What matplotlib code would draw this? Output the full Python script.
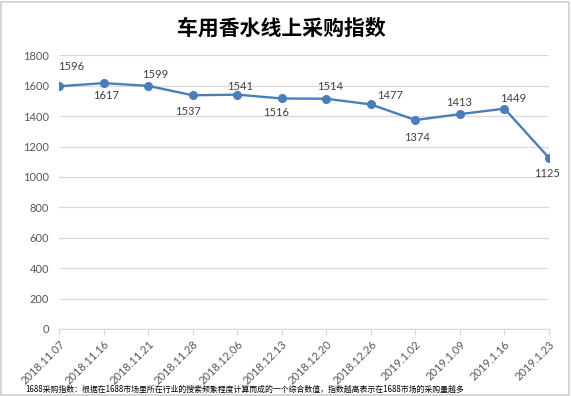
import matplotlib
matplotlib.use("Agg")
import matplotlib.pyplot as plt
from matplotlib.patches import Rectangle

dates = [
    "2018.11.07", "2018.11.16", "2018.11.21", "2018.11.28",
    "2018.12.06", "2018.12.13", "2018.12.20", "2018.12.26",
    "2019.1.02", "2019.1.09", "2019.1.16", "2019.1.23",
]
index_values = [1596, 1617, 1599, 1537, 1541, 1516, 1514, 1477, 1374, 1413, 1449, 1125]
y_ticks = [0, 200, 400, 600, 800, 1000, 1200, 1400, 1600, 1800]

title = "车用香水线上采购指数"
footnote = ("1688采购指数：根据在1688市场里所在行业的搜索频繁程度计算而成的一个综合数值，"
            "指数越高表示在1688市场的采购量越多")

# label offsets (pixels) from each point, as placed in the original
label_offsets = [
    (12, 20), (3, -12), (7, 11), (-5, -16), (3, 8), (-6, -14),
    (4, 12), (19, 9), (2, -17), (-1, 12), (9, 10), (-2, -16),
]

LINE_COLOR = "#4A7EBB"
GRID_COLOR = "#D9D9D9"
TEXT_COLOR = "#595959"

plt.rcParams["font.family"] = ["Lato", "Noto Sans CJK SC", "DejaVu Sans"]

fig = plt.figure(figsize=(5.71, 3.96), dpi=100)
ax = fig.add_axes([0.1033, 0.1692, 0.8582, 0.6912])

x = list(range(len(dates)))
ax.plot(x, index_values, color=LINE_COLOR, linewidth=1.7,
        marker="o", markersize=5.5, zorder=3)

for xi, val, (dx, dy) in zip(x, index_values, label_offsets):
    ax.annotate(str(val), (xi, val), xytext=(dx, dy), textcoords="offset pixels",
                ha="center", va="center", fontsize=8, color="#404040")

ax.set_xlim(0, len(dates) - 1)
ax.set_ylim(0, 1800)
ax.set_yticks(y_ticks)
ax.set_yticklabels([str(t) for t in y_ticks])
ax.set_xticks(x)
ax.set_xticklabels(dates, rotation=45, ha="right", va="top",
                   rotation_mode="anchor")

ax.grid(axis="y", color=GRID_COLOR, linewidth=0.9, zorder=0)
ax.set_axisbelow(True)
for side in ["left", "right", "top"]:
    ax.spines[side].set_visible(False)
ax.spines["bottom"].set_color(GRID_COLOR)
ax.spines["bottom"].set_linewidth(0.9)
ax.tick_params(axis="y", length=0, pad=7, labelsize=8, labelcolor=TEXT_COLOR)
ax.tick_params(axis="x", length=4, color=GRID_COLOR, width=0.9,
               pad=3, labelsize=8, labelcolor=TEXT_COLOR)
ax.set_clip_on(False)

fig.text(0.492, 0.929, title, ha="center", va="center", fontsize=15,
         fontweight="bold", color="black", family=["Noto Sans CJK SC"])
fig.text(0.044, 0.018, footnote, ha="left", va="center", fontsize=5.7,
         color="black", family=["Noto Sans CJK SC"])

fig.patches.append(Rectangle((0.002, 0.003), 0.994, 0.992, transform=fig.transFigure,
                             fill=False, edgecolor="#D0D0D0", linewidth=1.2))

fig.savefig("out.png", dpi=100)
